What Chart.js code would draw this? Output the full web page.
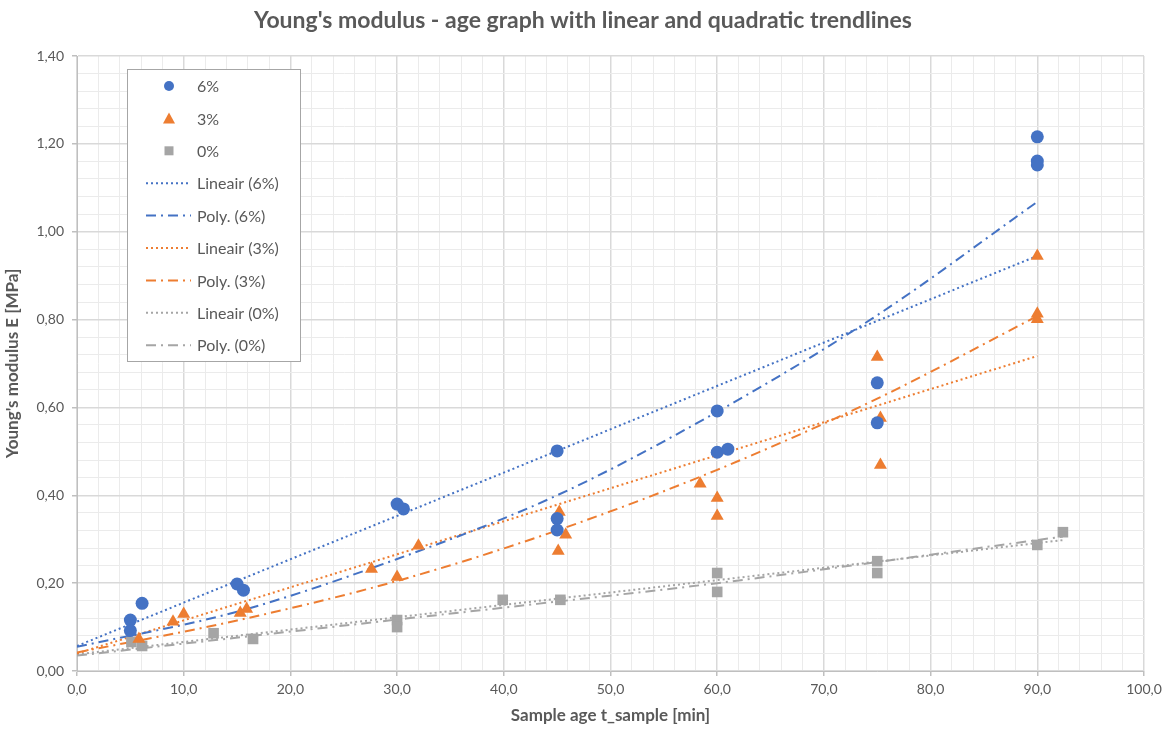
<!DOCTYPE html>
<html>
<head>
<meta charset="utf-8">
<title>Young's modulus - age graph</title>
<script src="https://cdn.jsdelivr.net/npm/chart.js@4.4.1/dist/chart.umd.min.js"></script>
<style>
  html, body { margin: 0; padding: 0; background: #fff; }
  #wrap { width: 1170px; height: 729px; position: relative; }
</style>
</head>
<body>
<div id="wrap"><canvas id="chart" width="1170" height="729"></canvas></div>
<script>
const ageSix = [5, 5, 6.1, 15, 15.6, 30, 30.6, 45, 45, 45, 60, 60, 61, 75, 75, 90, 90, 90];
const modSix = [0.116, 0.092, 0.154, 0.198, 0.184, 0.380, 0.369, 0.501, 0.347, 0.321, 0.592, 0.498, 0.505, 0.656, 0.565, 1.216, 1.161, 1.152];

const ageThree = [5.8, 9, 10, 15.3, 15.9, 27.6, 30, 32, 45.2, 45.1, 45.8, 58.4, 60, 60, 75, 75.3, 75.3, 90, 90, 90];
const modThree = [0.073, 0.112, 0.130, 0.132, 0.141, 0.232, 0.214, 0.285, 0.362, 0.273, 0.310, 0.426, 0.394, 0.353, 0.715, 0.576, 0.469, 0.945, 0.813, 0.801];

const ageZero = [5.1, 6.1, 12.8, 16.5, 30, 30, 39.9, 45.3, 60, 60, 75, 75, 90, 92.4];
const modZero = [0.066, 0.057, 0.086, 0.073, 0.116, 0.100, 0.162, 0.162, 0.223, 0.180, 0.250, 0.223, 0.287, 0.316];

// trendlines, also
const linSixX = [0, 90];
const linSixY = [0.057, 0.945];
const polySixX = [0, 15, 30, 45, 60, 75, 90];
const polySixY = [0.055, 0.135, 0.255, 0.400, 0.590, 0.810, 1.068];

const linThreeX = [0, 90];
const linThreeY = [0.040, 0.717];
const polyThreeX = [0, 15, 30, 45, 60, 75, 90];
const polyThreeY = [0.042, 0.115, 0.205, 0.320, 0.458, 0.620, 0.808];

const linZeroX = [0, 92.4];
const linZeroY = [0.038, 0.298];
const polyZeroX = [0, 30, 45, 60, 92.4];
const polyZeroY = [0.035, 0.117, 0.158, 0.200, 0.306];

const xTicks = [0, 10, 20, 30, 40, 50, 60, 70, 80, 90, 100];
const yTicks = [0, 0.2, 0.4, 0.6, 0.8, 1.0, 1.2, 1.4];

const BLUE = '#4472C4';
const ORANGE = '#ED7D31';
const GREY = '#A5A5A5';
const TEXT = '#595959';
const FONT = 'Lato, "Open Sans", sans-serif';

const DOT = [2, 3];
const DASH_DOT = [10, 5, 2, 5];

function toPoints(xs, ys) {
  return xs.map((x, i) => ({ x, y: ys[i] }));
}

function comma(v, digits) {
  return v.toFixed(digits).replace('.', ',');
}

function scatterSet(label, xs, ys, color, style, radius) {
  return {
    type: 'scatter',
    label,
    data: toPoints(xs, ys),
    backgroundColor: color,
    borderColor: color,
    borderWidth: 0,
    pointStyle: style,
    pointRadius: radius,
    showLine: false,
  };
}

function trendSet(label, xs, ys, color, dash, curved) {
  return {
    type: 'line',
    label,
    data: toPoints(xs, ys),
    borderColor: color,
    borderWidth: 2,
    borderDash: dash,
    pointRadius: 0,
    fill: false,
    cubicInterpolationMode: curved ? 'monotone' : 'default',
    tension: 0,
  };
}

const legendEntries = [
  { text: '6%', kind: 'circle', color: BLUE },
  { text: '3%', kind: 'triangle', color: ORANGE },
  { text: '0%', kind: 'square', color: GREY },
  { text: 'Lineair (6%)', kind: 'dot', color: BLUE },
  { text: 'Poly. (6%)', kind: 'dashdot', color: BLUE },
  { text: 'Lineair (3%)', kind: 'dot', color: ORANGE },
  { text: 'Poly. (3%)', kind: 'dashdot', color: ORANGE },
  { text: 'Lineair (0%)', kind: 'dot', color: GREY },
  { text: 'Poly. (0%)', kind: 'dashdot', color: GREY },
];

const boxLegend = {
  id: 'boxLegend',
  afterDraw(chart) {
    const ctx = chart.ctx;
    const left = 127, top = 69, width = 173, height = 292;
    ctx.save();
    ctx.fillStyle = '#ffffff';
    ctx.fillRect(left, top, width, height);
    ctx.strokeStyle = '#a6a6a6';
    ctx.lineWidth = 1;
    ctx.strokeRect(left + 0.5, top + 0.5, width, height);

    ctx.font = '16px ' + FONT;
    ctx.textBaseline = 'middle';
    ctx.textAlign = 'left';
    legendEntries.forEach((entry, i) => {
      const y = 86 + i * 32.4;
      const cx = 169;
      ctx.fillStyle = entry.color;
      ctx.strokeStyle = entry.color;
      if (entry.kind === 'circle') {
        ctx.beginPath();
        ctx.arc(cx, y, 5, 0, Math.PI * 2);
        ctx.fill();
      } else if (entry.kind === 'triangle') {
        ctx.beginPath();
        ctx.moveTo(cx, y - 6);
        ctx.lineTo(cx + 6, y + 5);
        ctx.lineTo(cx - 6, y + 5);
        ctx.closePath();
        ctx.fill();
      } else if (entry.kind === 'square') {
        ctx.fillRect(cx - 4.5, y - 4.5, 9, 9);
      } else {
        ctx.lineWidth = 2;
        ctx.setLineDash(entry.kind === 'dot' ? DOT : DASH_DOT);
        ctx.beginPath();
        ctx.moveTo(146, y);
        ctx.lineTo(191, y);
        ctx.stroke();
        ctx.setLineDash([]);
      }
      ctx.fillStyle = TEXT;
      ctx.fillText(entry.text, 197, y + 1);
    });
    ctx.restore();
  },
};

const chartTitle = {
  id: 'chartTitle',
  afterDraw(chart) {
    const ctx = chart.ctx;
    ctx.save();
    ctx.font = 'bold 23px ' + FONT;
    ctx.fillStyle = TEXT;
    ctx.textAlign = 'center';
    ctx.textBaseline = 'middle';
    ctx.fillText("Young's modulus - age graph with linear and quadratic trendlines", 583, 21);
    ctx.restore();
  },
};

function isMajorX(value) {
  return xTicks.some((t) => Math.abs(t - value) < 1e-6);
}

function isMajorY(value) {
  return yTicks.some((t) => Math.abs(t - value) < 1e-6);
}

new Chart(document.getElementById('chart'), {
  data: {
    datasets: [
      scatterSet('6%', ageSix, modSix, BLUE, 'circle', 6.5),
      scatterSet('3%', ageThree, modThree, ORANGE, 'triangle', 7.5),
      scatterSet('0%', ageZero, modZero, GREY, 'rect', 7.5),
      trendSet('Lineair (6%)', linSixX, linSixY, BLUE, DOT, false),
      trendSet('Poly. (6%)', polySixX, polySixY, BLUE, DASH_DOT, true),
      trendSet('Lineair (3%)', linThreeX, linThreeY, ORANGE, DOT, false),
      trendSet('Poly. (3%)', polyThreeX, polyThreeY, ORANGE, DASH_DOT, true),
      trendSet('Lineair (0%)', linZeroX, linZeroY, GREY, DOT, false),
      trendSet('Poly. (0%)', polyZeroX, polyZeroY, GREY, DASH_DOT, true),
    ],
  },
  options: {
    responsive: false,
    animation: false,
    layout: { padding: { top: 56, right: 26, bottom: 0, left: 0 } },
    plugins: {
      legend: { display: false },
      tooltip: { enabled: false },
      title: { display: false },
    },
    scales: {
      x: {
        type: 'linear',
        min: 0,
        max: 100,
        afterFit(scale) { scale.height = 58; },
        ticks: {
          stepSize: 2,
          autoSkip: false,
          maxRotation: 0,
          color: TEXT,
          font: { family: FONT, size: 14 },
          padding: 5,
          callback: (v) => (isMajorX(v) ? comma(v, 1) : ''),
        },
        grid: {
          color: (c) => (isMajorX(c.tick.value) ? '#d9d9d9' : '#ebebeb'),
          lineWidth: (c) => (isMajorX(c.tick.value) ? 1.5 : 1),
          tickLength: 5,
          tickColor: (c) => (isMajorX(c.tick.value) ? '#bfbfbf' : 'rgba(0,0,0,0)'),
        },
        border: { color: '#bfbfbf', width: 1 },
        title: {
          display: true,
          text: 'Sample age t_sample [min]',
          color: TEXT,
          font: { family: FONT, size: 17, weight: 'bold' },
          padding: { top: 0, bottom: 3 },
        },
      },
      y: {
        type: 'linear',
        min: 0,
        max: 1.4,
        afterFit(scale) { scale.width = 77; },
        ticks: {
          stepSize: 0.04,
          autoSkip: false,
          color: TEXT,
          font: { family: FONT, size: 14 },
          padding: 8,
          callback: (v) => (isMajorY(v) ? comma(v, 2) : ''),
        },
        grid: {
          color: (c) => (isMajorY(c.tick.value) ? '#d9d9d9' : '#ebebeb'),
          lineWidth: (c) => (isMajorY(c.tick.value) ? 1.5 : 1),
          tickLength: 5,
          tickColor: (c) => (isMajorY(c.tick.value) ? '#bfbfbf' : 'rgba(0,0,0,0)'),
        },
        border: { color: '#bfbfbf', width: 1 },
        title: {
          display: true,
          text: "Young's modulus E [MPa]",
          color: TEXT,
          font: { family: FONT, size: 17, weight: 'bold' },
          padding: { top: 2, bottom: 4 },
        },
      },
    },
  },
  plugins: [boxLegend, chartTitle],
});
</script>
</body>
</html>
